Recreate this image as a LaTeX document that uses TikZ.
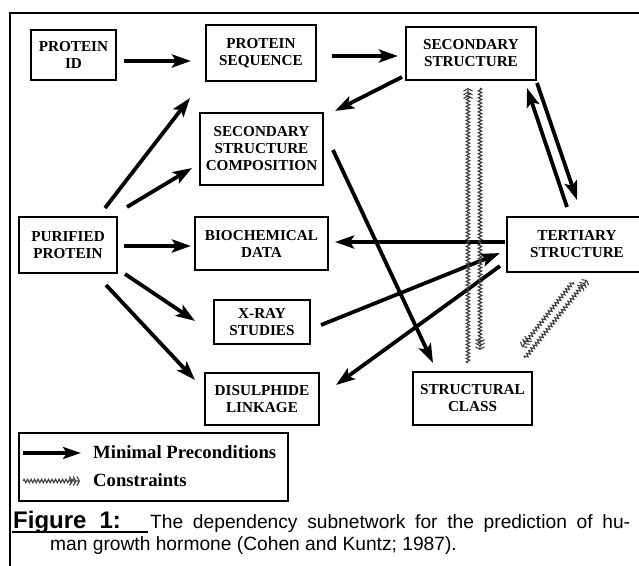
\documentclass[tikz,border=0pt]{standalone}
\usepackage{fontspec}
\setmainfont{Liberation Serif}
\newfontfamily\capfont{Liberation Sans}
\usetikzlibrary{arrows.meta,decorations.pathmorphing}
\begin{document}
\begin{tikzpicture}[x=1pt,y=-1pt,
  box/.style={draw,line width=1.7pt,align=center,inner sep=0pt,
    font=\fontsize{15.2}{17}\selectfont\bfseries},
  pre/.style={line width=3.8pt,-{Stealth[length=19pt,width=13pt,inset=4pt]}},
  con/.style={draw=gray!50!black,line width=1.1pt,decorate,
    decoration={snake,amplitude=1.8pt,segment length=3.5pt,post length=4pt},
    -{Straight Barb[length=2.5pt,width=9pt] Straight Barb[length=2.5pt,width=9pt] Straight Barb[length=2.5pt,width=9pt]}},
  leg/.style={anchor=base west,inner sep=0pt,font=\fontsize{18.7}{18.7}\selectfont\bfseries},
  captext/.style={anchor=base west,inner sep=0pt,font=\capfont\fontsize{19.2}{19.2}\selectfont}]
\useasboundingbox (0,0) rectangle (639,565);
% outer frame
\draw[line width=1.8pt] (10,575) -- (10,13) -- (650,13);
% nodes
\node[box,minimum width=85pt,minimum height=50pt] (pid) at (73.5,55) {PROTEIN\\ID};
\node[box,minimum width=110pt,minimum height=56pt] (pseq) at (261,53) {PROTEIN\\SEQUENCE};
\node[box,minimum width=130pt,minimum height=53pt] (sec) at (471,53.5) {SECONDARY\\STRUCTURE};
\node[box,minimum width=123pt,minimum height=72pt] (ssc) at (261.5,149) {SECONDARY\\STRUCTURE\\COMPOSITION};
\node[box,minimum width=98pt,minimum height=56pt] (pur) at (68,245) {PURIFIED\\PROTEIN};
\node[box,minimum width=133pt,minimum height=53pt] (bio) at (261.5,243.5) {BIOCHEMICAL\\DATA};
\node[box,minimum width=96pt,minimum height=44pt] (xray) at (262,322) {X-RAY\\STUDIES};
\node[box,minimum width=114pt,minimum height=52pt] (dis) at (262,399) {DISULPHIDE\\LINKAGE};
\node[box,minimum width=140pt,minimum height=55pt] (ter) at (577,244.5) {TERTIARY\\STRUCTURE};
\node[box,minimum width=119pt,minimum height=53pt] (sc) at (472.5,398.5) {STRUCTURAL\\CLASS};
% minimal preconditions
\draw[pre] ([shift={(50.5,6)}]pid.center) -- ([shift={(-70,8)}]pseq.center);
\draw[pre] ([shift={(71,3)}]pseq.center) -- ([shift={(-73,2.5)}]sec.center);
\draw[pre] ([shift={(-69,23.5)}]sec.center) -- ([shift={(73.5,-38)}]ssc.center);
\draw[pre] ([shift={(37,-37)}]pur.center) -- ([shift={(-71,45)}]pseq.center);
\draw[pre] ([shift={(59,-38)}]pur.center) -- ([shift={(-69.5,19)}]ssc.center);
\draw[pre] ([shift={(56,1)}]pur.center) -- ([shift={(-70.5,2.5)}]bio.center);
\draw[pre] ([shift={(57,29)}]pur.center) -- ([shift={(-67,-1)}]xray.center);
\draw[pre] ([shift={(38,40)}]pur.center) -- ([shift={(-67,-19)}]dis.center);
\draw[pre] ([shift={(71.5,1)}]ssc.center) -- ([shift={(-39.5,-35.5)}]sc.center);
\draw[pre] ([shift={(-72,-2.5)}]ter.center) -- ([shift={(73.5,-1.5)}]bio.center);
\draw[pre] ([shift={(59,3)}]xray.center) -- ([shift={(-77,8.5)}]ter.center);
\draw[pre] ([shift={(-77,21.5)}]ter.center) -- ([shift={(74,-14)}]dis.center);
\draw[pre] ([shift={(66,29.5)}]sec.center) -- ([shift={(0,-44.5)}]ter.center);
\draw[pre] ([shift={(-10,-37.5)}]ter.center) -- ([shift={(56,34.5)}]sec.center);
% constraints
\draw[con] ([shift={(-4.5,-35.5)}]sc.center) -- ([shift={(-3,34.5)}]sec.center);
\draw[con] ([shift={(9,34.5)}]sec.center) -- ([shift={(7.5,-48.5)}]sc.center);
\draw[con] ([shift={(52.5,-40.5)}]sc.center) -- ([shift={(10,35.5)}]ter.center);
\draw[con] ([shift={(-4,37.5)}]ter.center) -- ([shift={(49.5,-51.5)}]sc.center);
% legend
\draw[line width=1.7pt] (19,433) rectangle (288,501);
\coordinate (la1) at (23,453);
\coordinate (la2) at (81,453);
\coordinate (lc1) at (23,481);
\coordinate (lc2) at (80,481);
\draw[line width=3.4pt,-{Stealth[length=18pt,width=12pt,inset=4pt]}] (la1) -- (la2);
\draw[con] (lc1) -- (lc2);
\node[leg] (lt1) at (93,458) {Minimal Preconditions};
\node[leg] (lt2) at (93,486) {Constraints};
% caption
\node[anchor=base west,inner sep=0pt,font=\capfont\bfseries\fontsize{24}{24}\selectfont] (fig) at (13,528) {Figure\hspace{13pt}1:};
\draw[line width=1.8pt] ([shift={(-1,4)}]fig.base west) -- ([shift={(135,4)}]fig.base west);
\node[captext] (cap1) at (150,528) {\makebox[480pt][s]{The dependency subnetwork for the prediction of hu-}};
\node[captext] (cap2) at (50,550) {man growth hormone (Cohen and Kuntz; 1987).};
\end{tikzpicture}
\end{document}
